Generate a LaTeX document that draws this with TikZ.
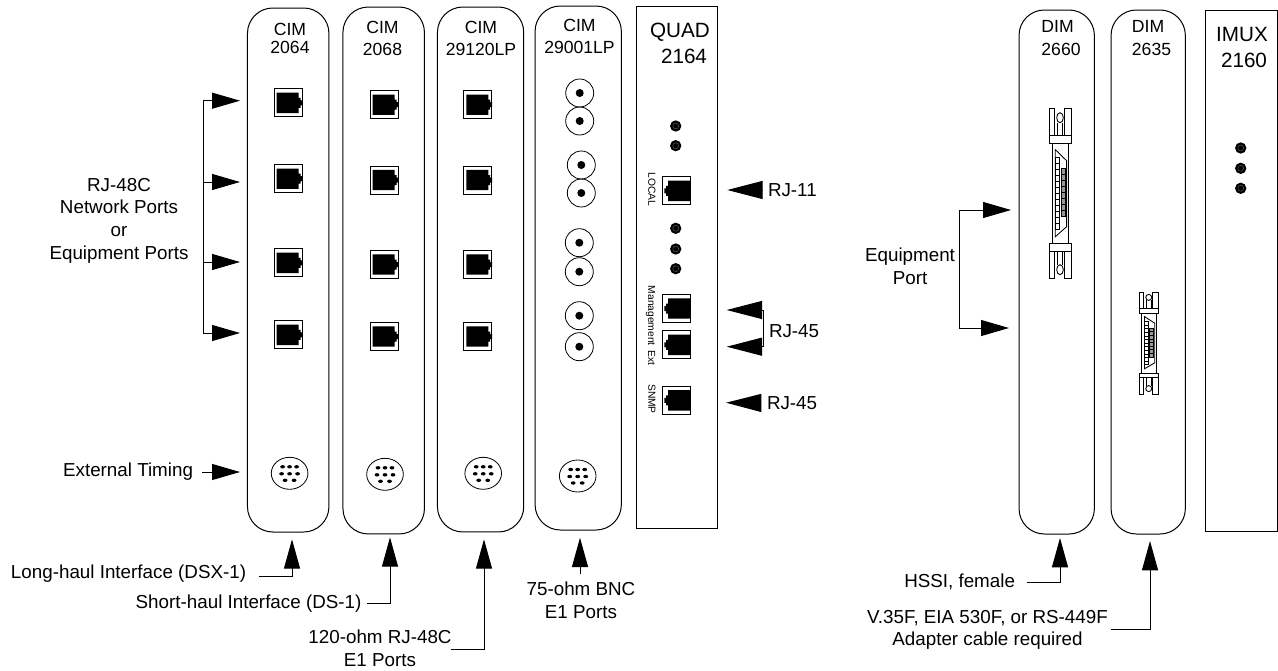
\documentclass[tikz,border=0pt]{standalone}
\usepackage{fontspec}
\setmainfont{Liberation Sans}
\usetikzlibrary{arrows.meta,shapes.geometric}

\tikzset{
  base/.style={line width=0.75pt},
  cardbox/.style={base,draw,rectangle,rounded corners=19pt,inner sep=0pt,outer sep=0pt},
  platebox/.style={base,draw,rectangle,inner sep=0pt,outer sep=0pt},
  label/.style={inner sep=0pt,outer sep=0pt,align=center,font=\fontsize{14.1}{17}\selectfont},
  namelabel/.style={label,font=\fontsize{13.2}{17}\selectfont},
  biglabel/.style={label,font=\fontsize{15.5}{19.5}\selectfont},
  sidelabel/.style={inner sep=0pt,rotate=-90,font=\fontsize{7.7}{9}\selectfont},
  portbox/.style={base,draw,rectangle,fill=white,minimum size=21pt,inner sep=0pt,outer sep=0pt},
  bncjack/.style={draw,circle,line width=0.6pt,minimum size=21pt,inner sep=0pt,
    path picture={\fill (path picture bounding box.center) circle (3pt);}},
  ledlamp/.style={circle,fill=black,minimum size=8.5pt,inner sep=0pt,
    path picture={\draw[black!60,line width=0.3pt] (path picture bounding box.center) circle (2.2pt);}},
  timingjack/.style={draw,ellipse,line width=0.6pt,minimum width=27.5pt,minimum height=24pt,inner sep=0pt},
  pointhead/.style={base,-{Triangle[length=21pt,width=12pt]}},
  jackhead/.style={base,-{Triangle[length=26.5pt,width=13.5pt]}},
  uphead/.style={base,-{Triangle[length=22pt,width=12pt]}}
}

\newcommand{\rjport}[4]{
  \node[portbox] (#1) at (#2,#3) {};
  \fill[shift={(#1.center)},shift={({1-#4},0)},xscale=#4]
    (-11.3,-10.2) -- (10.6,-10.2) -- (10.6,-5) -- (12.5,-5) -- (12.5,-2.5) -- (14.3,-2.5)
    -- (14.3,2.5) -- (12.5,2.5) -- (12.5,5) -- (10.6,5) -- (10.6,10.2) -- (-11.3,10.2) -- cycle;
}

\newcommand{\timing}[3]{
  \node[timingjack] (#1) at (#2,#3) {};
  \foreach \dx/\dy in {-7/-6.5,0/-6.5,7/-6.5,-8/0.5,0/0.5,8/0.5,-4.5/7,4.5/7}
    \fill ([shift={(\dx,\dy)}]#1.center) ellipse (2.4 and 1.7);
}

\newcommand{\hssiconn}[4]{
  \begin{scope}[shift={(#1,#2)},xscale=#3,yscale=#4,line width=0.65pt]
    \foreach \s in {1,-1} {
      \begin{scope}[yscale=\s]
        \draw (-11,-85) rectangle (-5.7,-58);
        \draw (3.7,-85) rectangle (11,-58);
        \draw (-11,-58) rectangle (11,-50);
        \draw (-0.3,-76) ellipse (3.3 and 5);
        \draw (-3,-71) -- (-3,-58);
        \draw (2.5,-71) -- (2.5,-58);
      \end{scope}
    }
    \draw (-8,-50) rectangle (8.3,50);
    \draw (-5,-44) -- (6.3,-33) -- (6.3,33) -- (-5,43) -- cycle;
    \foreach \py in {-36,-30,...,30}
      \draw[line width=0.45pt,fill=white] (-5,\py) rectangle (-1,\py+6);
    \foreach \py in {-25,-19,...,20}
      \draw[line width=0.45pt,fill=black!40] (0.5,\py) rectangle (4.5,\py+6);
  \end{scope}
}

\begin{document}
\begin{tikzpicture}[x=0.75pt,y=-0.75pt]
\useasboundingbox (0,0) rectangle (1278,671);

\node[cardbox,minimum width=61.1pt,minimum height=393pt] (cimA) at (288.2,270) {};
\node[cardbox,minimum width=61.1pt,minimum height=395.2pt] (cimB) at (383.7,270.5) {};
\node[cardbox,minimum width=64.7pt,minimum height=393.7pt] (cimC) at (480.6,269.5) {};
\node[cardbox,minimum width=64.7pt,minimum height=393pt] (cimD) at (578.2,268) {};
\node[platebox,minimum width=60.5pt,minimum height=392.2pt] (quad) at (676.7,267.5) {};
\node[cardbox,minimum width=56.5pt,minimum height=393pt] (dimA) at (1056.7,272) {};
\node[cardbox,minimum width=55.7pt,minimum height=393pt] (dimB) at (1148.2,272) {};
\node[platebox,minimum width=53.8pt,minimum height=391pt] (imux) at (1241.2,271.3) {};

\node[namelabel] (cimAname) at (290,38) {CIM\\[-3.5pt]2064};
\node[namelabel] (cimBname) at (382.5,38.5) {CIM\\2068};
\node[namelabel] (cimCname) at (481,38.5) {CIM\\29120LP};
\node[namelabel] (cimDname) at (579.5,36.5) {CIM\\29001LP};
\node[biglabel] (quadname) at (680,43) {QUAD\\\hspace*{6pt}2164};
\node[namelabel,align=left] (dimAname) at (1061,38) {DIM\\2660};
\node[namelabel,align=left] (dimBname) at (1151.5,38) {DIM\\2635};
\node[biglabel] (imuxname) at (1242,47) {IMUX\\\hspace*{3pt}2160};

\rjport{aone}{288}{102.8}{1}
\rjport{atwo}{288}{178.7}{1}
\rjport{athree}{288}{262.8}{1}
\rjport{afour}{288}{334.8}{1}
\rjport{bone}{384}{104.7}{1}
\rjport{btwo}{384}{180}{1}
\rjport{bthree}{384}{264.5}{1}
\rjport{bfour}{384}{336.5}{1}
\rjport{cone}{477.7}{104.7}{1}
\rjport{ctwo}{477.7}{180}{1}
\rjport{cthree}{477.7}{264.5}{1}
\rjport{cfour}{477.7}{336.5}{1}

\node[bncjack] (bncA) at (579.7,93) {};
\node[bncjack] (bncB) at (579.7,121) {};
\node[bncjack] (bncC) at (581.3,165) {};
\node[bncjack] (bncD) at (581.3,193) {};
\node[bncjack] (bncE) at (579.3,242.7) {};
\node[bncjack] (bncF) at (579.3,271.7) {};
\node[bncjack] (bncG) at (579.3,315.7) {};
\node[bncjack] (bncH) at (579.3,346.7) {};

\timing{timeA}{289.6}{473.3}
\timing{timeB}{385}{474.3}
\timing{timeC}{483.2}{473.3}
\timing{timeD}{577.7}{476}

\node[ledlamp] (ledA) at (675.7,126) {};
\node[ledlamp] (ledB) at (675.7,145.7) {};
\node[ledlamp] (ledC) at (675.7,228.3) {};
\node[ledlamp] (ledD) at (675.7,249) {};
\node[ledlamp] (ledE) at (675.7,268.7) {};
\node[ledlamp] (ledF) at (1240.7,148) {};
\node[ledlamp] (ledG) at (1240.7,168.3) {};
\node[ledlamp] (ledH) at (1240.7,188.3) {};

\rjport{local}{676.7}{190.8}{-1}
\rjport{mgmt}{676.7}{308.5}{-1}
\rjport{ext}{676.7}{344.8}{-1}
\rjport{snmp}{676.7}{400.3}{-1}
\node[sidelabel] (localname) at (652,189.5) {LOCAL};
\node[sidelabel] (mgmtname) at (650.7,325.5) {Management\, Ext};
\node[sidelabel] (snmpname) at (652,399) {SNMP};

\hssiconn{1060.3}{193.7}{1}{1}
\hssiconn{1149}{343}{0.9}{0.6}

\node[label] (netports) at (119,220.5) {RJ-48C\\Network Ports\\or\\Equipment Ports};
\coordinate (busA) at (203.3,100.7);
\coordinate (busB) at (203.3,182);
\coordinate (busC) at (203.3,262);
\coordinate (busD) at (203.3,333);
\coordinate (tipA) at (240,100.7);
\coordinate (tipB) at (240,182);
\coordinate (tipC) at (240,262);
\coordinate (tipD) at (240,333);
\draw[base] (busA) -- (busD);
\draw[pointhead] (busA) -- (tipA);
\draw[pointhead] (busB) -- (tipB);
\draw[pointhead] (busC) -- (tipC);
\draw[pointhead] (busD) -- (tipD);

\node[label,anchor=east] (exttime) at (193,472) {External Timing};
\coordinate (tipE) at (240,472);
\draw[pointhead,shorten <=7pt] (exttime.east) -- (tipE);

\node[label,anchor=west] (rjeleven) at (768,190) {RJ-11};
\coordinate (tipF) at (727.3,190);
\draw[jackhead,shorten <=4pt] (rjeleven.west) -- (tipF);

\node[label,anchor=west] (rjmgmt) at (769,330.7) {RJ-45};
\coordinate (busE) at (763,329);
\coordinate (tipG) at (726.7,310);
\coordinate (tipH) at (726.7,346.7);
\draw[jackhead] (busE) |- (tipG);
\draw[jackhead] (busE) |- (tipH);

\node[label,anchor=west] (rjsnmp) at (767,403) {RJ-45};
\coordinate (tipI) at (726,402.7);
\draw[jackhead,shorten <=5pt] (rjsnmp.west) -- (tipI);

\node[label,anchor=west] (longhaul) at (11,574) {Long-haul Interface (DSX-1)};
\coordinate (longstart) at (259,576.3);
\coordinate (tipJ) at (292,539.3);
\draw[uphead] (longstart) -| (tipJ);

\node[label,anchor=west] (shorthaul) at (135.7,604) {Short-haul Interface (DS-1)};
\coordinate (shortstart) at (367,603.7);
\coordinate (tipK) at (390,537.3);
\draw[uphead] (shortstart) -| (tipK);

\node[label] (rjports) at (380,648) {120-ohm RJ-48C\\E1 Ports};
\coordinate (rjstart) at (451.4,649.3);
\coordinate (tipL) at (484,539.3);
\draw[uphead] (rjstart) -| (tipL);

\node[label] (bncports) at (581,600) {75-ohm BNC\\E1 Ports};
\coordinate (tipM) at (580,537.7);
\draw[uphead,shorten <=6pt] (bncports.north -| tipM) -- (tipM);

\node[label] (eqport) at (910,266.5) {Equipment\\Port};
\coordinate (busF) at (959,210);
\coordinate (busG) at (959,328);
\coordinate (tipN) at (1011,210);
\coordinate (tipO) at (1009,328);
\draw[base] (busF) -- (busG);
\draw[pointhead] (busF) -- (tipN);
\draw[pointhead] (busG) -- (tipO);

\node[label,anchor=east] (hssi) at (1015,582) {HSSI, female};
\coordinate (hssistart) at (1027,582);
\coordinate (tipP) at (1060,538);
\draw[uphead] (hssistart) -| (tipP);

\node[label] (adapter) at (987.5,630) {V.35F, EIA 530F, or RS-449F\\Adapter cable required};
\coordinate (adapterstart) at (1111,629);
\coordinate (tipQ) at (1150,541);
\draw[uphead] (adapterstart) -| (tipQ);
\end{tikzpicture}
\end{document}
